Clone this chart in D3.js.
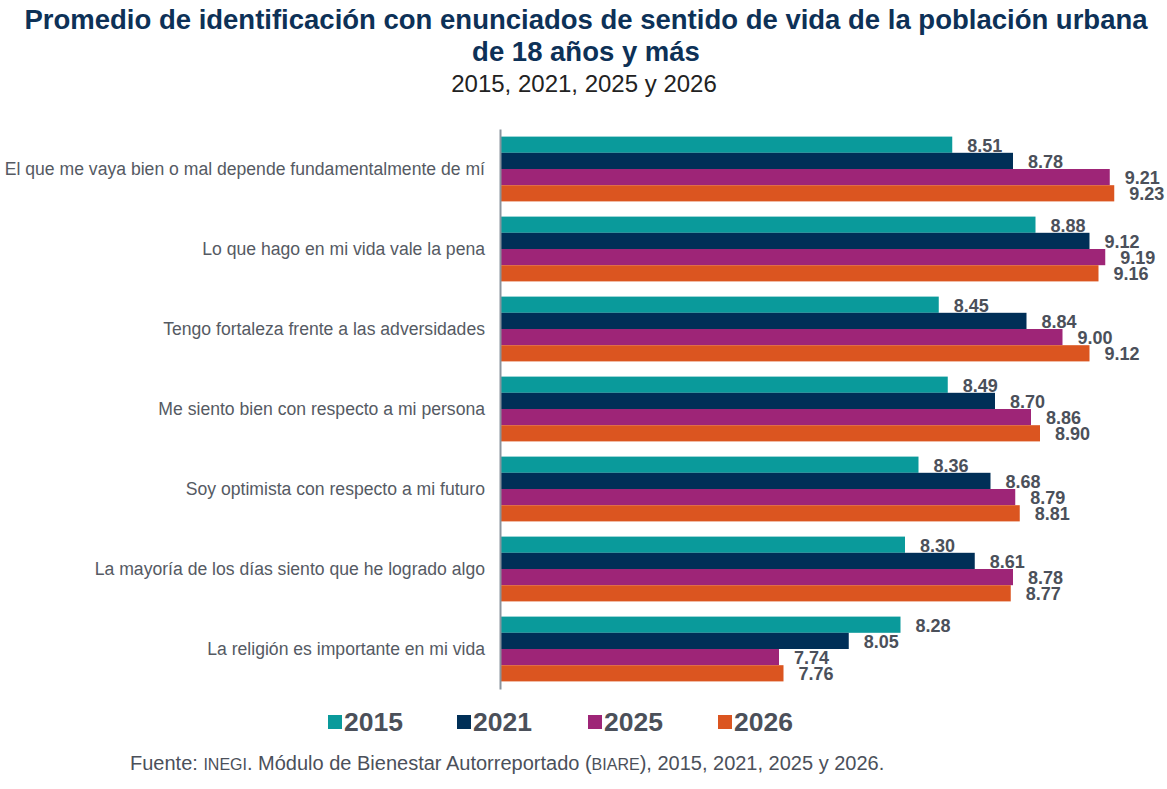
<!DOCTYPE html>
<html>
<head>
<meta charset="utf-8">
<script src="https://cdn.jsdelivr.net/npm/d3@7"></script>
<style>
  body { margin: 0; background: #fff; }
  svg { display: block; font-family: "Liberation Sans", Arial, sans-serif; }
</style>
</head>
<body>
<svg id="chart" width="1167" height="789"></svg>
<script>
// categorias (de arriba hacia abajo)
var categories = [
    "El que me vaya bien o mal depende fundamentalmente de mí",
    "Lo que hago en mi vida vale la pena",
    "Tengo fortaleza frente a las adversidades",
    "Me siento bien con respecto a mi persona",
    "Soy optimista con respecto a mi futuro",
    "La mayoría de los días siento que he logrado algo",
    "La religión es importante en mi vida"
];
var years = ["2015", "2021", "2025", "2026"];
var v2015 = [8.51, 8.88, 8.45, 8.49, 8.36, 8.30, 8.28];
var v2021 = [8.78, 9.12, 8.84, 8.70, 8.68, 8.61, 8.05];
var v2025 = [9.21, 9.19, 9.00, 8.86, 8.79, 8.78, 7.74];
var v2026 = [9.23, 9.16, 9.12, 8.90, 8.81, 8.77, 7.76];
var colors = ["#0a9a9b", "#002f57", "#9e2577", "#db5520"];

var series = [v2015, v2021, v2025, v2026];

var svg = d3.select("#chart");

// titulo
svg.append("text").attr("x", 586).attr("y", 29).attr("text-anchor", "middle")
    .style("font-size", "27.5px").style("font-weight", "bold").style("fill", "#0d3157")
    .text("Promedio de identificación con enunciados de sentido de vida de la población urbana");
svg.append("text").attr("x", 586).attr("y", 61).attr("text-anchor", "middle")
    .style("font-size", "27.5px").style("font-weight", "bold").style("fill", "#0d3157")
    .text("de 18 años y más");
svg.append("text").attr("x", 584).attr("y", 92).attr("text-anchor", "middle")
    .style("font-size", "24px").style("fill", "#222")
    .text("2015, 2021, 2025 y 2026");

var x = d3.scaleLinear().domain([6.5, 9.5]).range([500, 1175]);
var y0 = d3.scaleBand().domain(categories).range([129, 689]).paddingInner(0.19).paddingOuter(0.095);
var y1 = d3.scaleBand().domain(years).range([0, y0.bandwidth()]);

var groups = svg.append("g").selectAll("g")
    .data(categories)
    .join("g")
    .attr("transform", function (d) { return "translate(0," + y0(d) + ")"; });

groups.selectAll("rect")
    .data(function (d, i) { return years.map(function (yr, j) { return { yr: yr, v: series[j][i], c: colors[j] }; }); })
    .join("rect")
    .attr("x", x(6.5))
    .attr("y", function (d) { return y1(d.yr); })
    .attr("width", function (d) { return x(d.v) - x(6.5); })
    .attr("height", y1.bandwidth())
    .attr("fill", function (d) { return d.c; });

groups.selectAll("text.val")
    .data(function (d, i) { return years.map(function (yr, j) { return { yr: yr, v: series[j][i] }; }); })
    .join("text")
    .attr("class", "val")
    .attr("x", function (d) { return x(d.v) + 15; })
    .attr("y", function (d) { return y1(d.yr) + y1.bandwidth() / 2 + 7; })
    .style("font-size", "18px").style("font-weight", "bold").style("fill", "#4b505a")
    .text(function (d) { return d3.format(".2f")(d.v); });

// eje vertical
var axisY = d3.axisLeft(y0).tickSize(0).tickPadding(15);
var gAxis = svg.append("g").attr("transform", "translate(" + x(6.5) + ",0)").call(axisY);
gAxis.select(".domain").attr("stroke", "#8a949e").attr("stroke-width", 2);
gAxis.selectAll("text").style("font-size", "17.6px").style("fill", "#555a63")
    .style("font-family", "'Liberation Sans', Arial, sans-serif");

// leyenda
var legendX = [328, 457, 588, 718];
var legend = svg.append("g").selectAll("g")
    .data(years)
    .join("g")
    .attr("transform", function (d, i) { return "translate(" + legendX[i] + ",715)"; });
legend.append("rect").attr("width", 14).attr("height", 14)
    .attr("fill", function (d, i) { return colors[i]; });
legend.append("text").attr("x", 16).attr("y", 16)
    .style("font-size", "26.5px").style("font-weight", "bold").style("fill", "#4b505a")
    .text(function (d) { return d; });

// fuente
var src = svg.append("text").attr("x", 130).attr("y", 770)
    .style("font-size", "20px").style("fill", "#4b505a");
src.append("tspan").text("Fuente: ");
src.append("tspan").style("font-size", "16px").text("INEGI");
src.append("tspan").text(". Módulo de Bienestar Autorreportado (");
src.append("tspan").style("font-size", "16px").text("BIARE");
src.append("tspan").text("), 2015, 2021, 2025 y 2026.");
</script>
</body>
</html>
